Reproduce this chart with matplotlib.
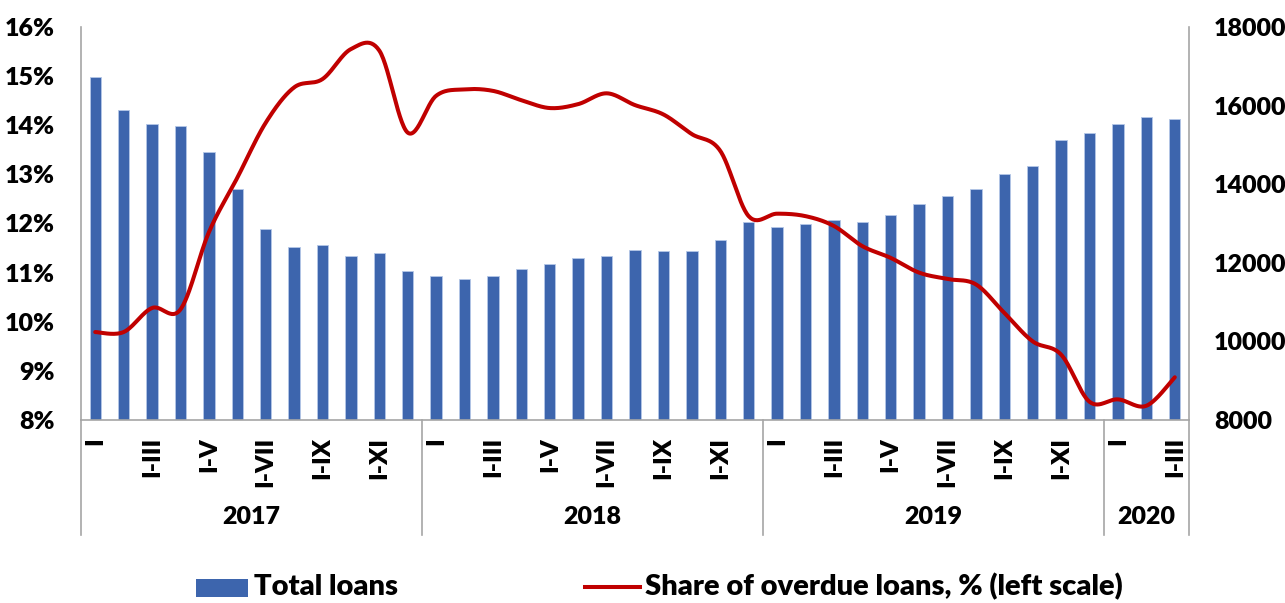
import numpy as np
import matplotlib
matplotlib.use("Agg")
import matplotlib.pyplot as plt
from matplotlib.patches import Rectangle
from matplotlib.lines import Line2D

# ---- data ----
month_labels = ["I", "", "I-III", "", "I-V", "", "I-VII", "", "I-IX", "", "I-XI", ""] * 3 + ["I", "", "I-III"]
years = ["2017", "2018", "2019", "2020"]
year_sizes = [12, 12, 12, 3]

total_loans = [16720, 15900, 15540, 15470, 14810, 13890, 12870, 12390, 12460, 12170, 12240, 11780,
               11670, 11580, 11670, 11830, 11960, 12120, 12180, 12330, 12310, 12300, 12580, 13030,
               12900, 12990, 13080, 13030, 13210, 13500, 13690, 13880, 14260, 14460, 15130, 15310,
               15530, 15700, 15650]
overdue_share = [9.79, 9.79, 10.28, 10.25, 11.82, 12.93, 14.05, 14.77, 14.94, 15.55, 15.52, 13.85,
                 14.60, 14.73, 14.70, 14.51, 14.35, 14.43, 14.65, 14.41, 14.22, 13.82, 13.48, 12.15,
                 12.20, 12.15, 11.95, 11.54, 11.30, 11.00, 10.87, 10.76, 10.18, 9.60, 9.33, 8.37,
                 8.42, 8.29, 8.87]

BLUE = "#3D65AD"
RED = "#C00000"
GREY = "#A6A6A6"
FONT = "Lato"
FW = "heavy"
FS = 18
LFS = 21

plt.rcParams['font.family'] = [FONT, 'DejaVu Sans']

W, H = 1285, 603
fig = plt.figure(figsize=(W / 100, H / 100), dpi=100)
ax = fig.add_axes([81 / W, 1 - 420 / H, (1189 - 81) / W, (420 - 27) / H])
ax2 = ax.twinx()

n = len(total_loans)
x = np.arange(n)

# bars on the right scale
ax.bar(x, total_loans, width=0.4, color=BLUE, edgecolor="#B4C7E7", linewidth=0.6, zorder=2)
ax.set_ylim(8000, 18000)
ax.set_xlim(-0.5, n - 0.5)
ax.set_xticks([])
ax.yaxis.tick_right()
ax.set_yticks(np.arange(8000, 18001, 2000))
ax.set_yticklabels([str(v) for v in range(8000, 18001, 2000)], fontsize=FS, fontweight=FW)
ax.tick_params(axis='y', which='both', length=0, pad=18, left=False, labelleft=False,
               right=True, labelright=True)

for s in ["top", "left"]:
    ax.spines[s].set_visible(False)
ax.spines["right"].set_color(GREY)
ax.spines["bottom"].set_color(GREY)
ax.spines["right"].set_linewidth(1.2)
ax.spines["bottom"].set_linewidth(1.2)

# line on left scale
ax2.set_ylim(8, 16)
ax2.set_yticks(np.arange(8, 17, 1))
ax2.set_yticklabels([f"{v}%" for v in range(8, 17)], fontsize=FS, fontweight=FW)
ax2.tick_params(axis='y', which='both', length=0, pad=19, left=True, labelleft=True,
                right=False, labelright=False)
for s in ["top", "right", "bottom"]:
    ax2.spines[s].set_visible(False)
ax2.spines["left"].set_visible(True)
ax2.spines["left"].set_color(GREY)
ax2.spines["left"].set_linewidth(1.2)

# smoothed line (Catmull-Rom, like Excel smoothing)
P = np.array(overdue_share)
xs, ys = [], []
for i in range(n - 1):
    p0 = P[i - 1] if i > 0 else P[i]
    p1, p2 = P[i], P[i + 1]
    p3 = P[i + 2] if i + 2 < n else P[i + 1]
    x0 = i - 1 if i > 0 else i
    x3 = i + 2 if i + 2 < n else i + 1
    t = np.linspace(0, 1, 30)
    c1 = p1 + (p2 - p0) / 6
    c2 = p2 - (p3 - p1) / 6
    cx1 = i + (i + 1 - x0) / 6
    cx2 = i + 1 - (x3 - i) / 6
    bx = (1 - t) ** 3 * i + 3 * (1 - t) ** 2 * t * cx1 + 3 * (1 - t) * t ** 2 * cx2 + t ** 3 * (i + 1)
    by = (1 - t) ** 3 * p1 + 3 * (1 - t) ** 2 * t * c1 + 3 * (1 - t) * t ** 2 * c2 + t ** 3 * p2
    xs.extend(bx)
    ys.extend(by)
ax2.plot(xs, ys, color=RED, linewidth=2.9, solid_capstyle='round', zorder=3)

# month tick labels
for i, lab in enumerate(month_labels):
    if lab:
        ax.annotate(lab, xy=(i, 0), xycoords=('data', 'axes fraction'), xytext=(0, -17),
                    textcoords='offset pixels', rotation=90, ha='center', va='top',
                    fontsize=FS, fontweight=FW)

# year groups
start = -0.5
bounds = [start]
for name, size in zip(years, year_sizes):
    end = start + size
    ax.annotate(name, xy=((start + end) / 2, 0), xycoords=('data', 'axes fraction'),
                xytext=(0, -97), textcoords='offset pixels', ha='center', va='center',
                fontsize=FS, fontweight=FW)
    start = end
    bounds.append(end)
for b in bounds:
    ax.plot([b, b], [0, -115 / 393], transform=ax.get_xaxis_transform(), color=GREY,
            linewidth=1.2, clip_on=False, zorder=1)

# legend (manual placement)
fig.add_artist(Rectangle((196 / W, 1 - 597 / H), 52 / W, 18 / H, transform=fig.transFigure,
                         facecolor=BLUE, edgecolor='none'))
fig.text(254 / W, 1 - 587 / H, "Total loans", fontsize=LFS, fontweight=FW, va='center', ha='left')
fig.add_artist(Line2D([585 / W, 640 / W], [1 - 587 / H, 1 - 587 / H], transform=fig.transFigure,
                      color=RED, linewidth=2.9))
fig.text(645 / W, 1 - 587 / H, "Share of overdue loans, % (left scale)", fontsize=LFS,
         fontweight=FW, va='center', ha='left')

fig.savefig("out.png", dpi=100)
